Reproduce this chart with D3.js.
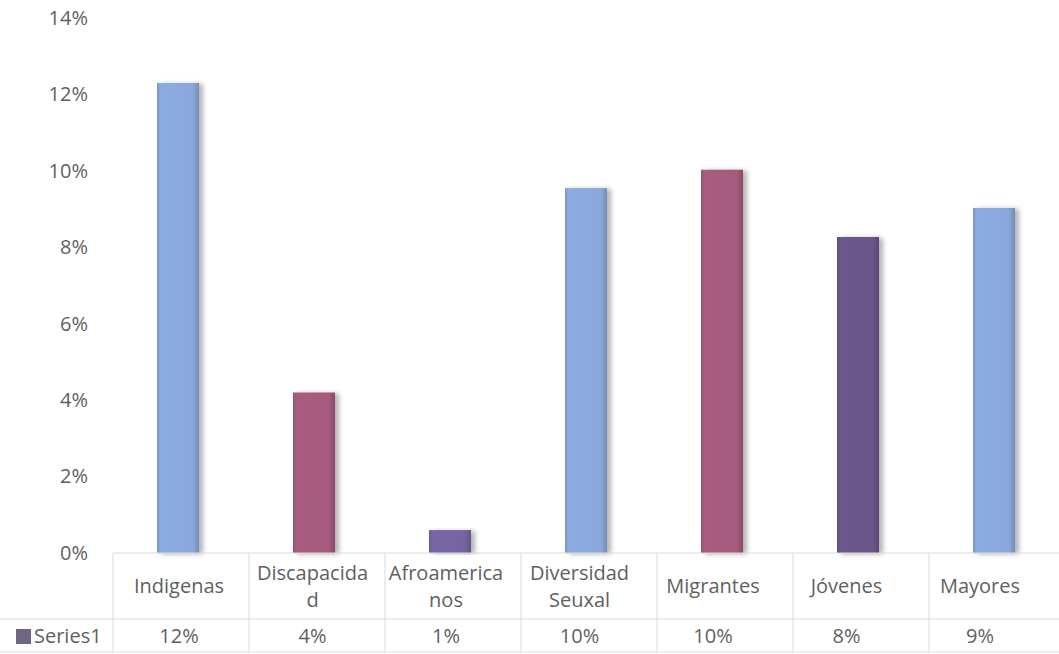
<!DOCTYPE html>
<html>
<head>
<meta charset="utf-8">
<script src="https://cdn.jsdelivr.net/npm/d3@7"></script>
<style>
  body { margin: 0; background: #fff; }
  svg text { font-family: "Open Sans", sans-serif; fill: #5f5f5f; }
</style>
</head>
<body>
<div id="chart"></div>
<script>
// data
var categories = ["Indigenas", "Discapacida\nd", "Afroamerica\nnos", "Diversidad\nSeuxal", "Migrantes", "Jóvenes", "Mayores"];
var values = [0.123, 0.042, 0.006, 0.0955, 0.1003, 0.0827, 0.0903];
var barColors = ["#8aa8dc", "#a55a7d", "#7864a0", "#8aa8dc", "#a55a7d", "#6a5689", "#8aa8dc"];
var yTicks = [0, 0.02, 0.04, 0.06, 0.08, 0.10, 0.12, 0.14];
var seriesName = "Series1";

var width = 1059,
    height = 654;

var left = 113,
    right = 1065,
    baseY = 553,
    topY = 18;

var svg = d3.select("#chart").append("svg")
    .attr("width", width)
    .attr("height", height);

var defs = svg.append("defs");

var filter = defs.append("filter")
    .attr("id", "shadow")
    .attr("x", "-20%").attr("y", "-5%")
    .attr("width", "160%").attr("height", "110%");
filter.append("feDropShadow")
    .attr("dx", 4).attr("dy", 1)
    .attr("stdDeviation", 2.5)
    .attr("flood-color", "#000")
    .attr("flood-opacity", 0.3);

var X = d3.scaleBand()
    .domain(categories)
    .range([left, right]);

var Y = d3.scaleLinear()
    .domain([0, 0.14])
    .range([baseY, topY]);

// one gradient per bar colour
barColors.forEach(function(c, i) {
    var g = defs.append("linearGradient")
        .attr("id", "grad" + i)
        .attr("x1", "0%").attr("x2", "100%")
        .attr("y1", "0%").attr("y2", "0%");
    var base = d3.color(c);
    g.append("stop").attr("offset", "0%").attr("stop-color", base.darker(0.3));
    g.append("stop").attr("offset", "8%").attr("stop-color", base.brighter(0.05));
    g.append("stop").attr("offset", "85%").attr("stop-color", base);
    g.append("stop").attr("offset", "100%").attr("stop-color", base.darker(0.5));
});

// y axis
var yAxis = svg.append("g")
    .attr("transform", "translate(" + left + ",0)")
    .call(d3.axisLeft(Y)
        .tickValues(yTicks)
        .tickFormat(d3.format(".0%"))
        .tickSize(0)
        .tickPadding(25));
yAxis.select(".domain").remove();
yAxis.selectAll("text")
    .style("font-family", "'Open Sans', sans-serif")
    .style("font-size", "20px")
    .attr("fill", "#5f5f5f");

// bars
var barW = 42;
svg.selectAll("rect.bar")
    .data(values)
    .enter().append("rect")
    .attr("class", "bar")
    .attr("x", function(d, i) {
        return X(categories[i]) + X.bandwidth() / 2 - barW / 2 - 3;
    })
    .attr("y", function(d) { return Y(d); })
    .attr("width", barW)
    .attr("height", function(d) { return baseY - Y(d); })
    .attr("fill", function(d, i) { return "url(#grad" + i + ")"; })
    .attr("filter", "url(#shadow)");

// data table
var row1 = baseY,
    row2 = 619,
    row3 = 652;
var gridColor = "#dadada";

var table = svg.append("g");

table.append("line")
    .attr("x1", left).attr("x2", width)
    .attr("y1", row1).attr("y2", row1)
    .attr("stroke", gridColor);
table.append("line")
    .attr("x1", 0).attr("x2", width)
    .attr("y1", row2).attr("y2", row2)
    .attr("stroke", gridColor);
table.append("line")
    .attr("x1", 0).attr("x2", width)
    .attr("y1", row3).attr("y2", row3)
    .attr("stroke", gridColor);

table.selectAll("line.col")
    .data(categories)
    .enter().append("line")
    .attr("class", "col")
    .attr("x1", function(d) { return X(d); })
    .attr("x2", function(d) { return X(d); })
    .attr("y1", row1).attr("y2", row3)
    .attr("stroke", gridColor);

// label centre: shift a bit left further along the table, as in the scan
function labelX(i) {
    return X(categories[i]) + X.bandwidth() / 2 - 2 - i * 2.5;
}

// category labels
var catText = table.selectAll("text.cat")
    .data(categories)
    .enter().append("text")
    .attr("class", "cat")
    .attr("text-anchor", "middle")
    .style("font-size", "20px")
    .attr("x", function(d, i) { return labelX(i); })
    .attr("y", function(d) {
        var n = d.split("\n").length;
        return (row1 + row2) / 2 - (n - 1) * 13.5;
    });

catText.selectAll("tspan")
    .data(function(d) { return d.split("\n"); })
    .enter().append("tspan")
    .attr("x", function() { return d3.select(this.parentNode).attr("x"); })
    .attr("dy", function(d, i) { return i === 0 ? "0.35em" : "27px"; })
    .text(function(d) { return d; });

// value row
table.selectAll("text.val")
    .data(values)
    .enter().append("text")
    .attr("class", "val")
    .attr("text-anchor", "middle")
    .style("font-size", "20px")
    .attr("x", function(d, i) { return labelX(i); })
    .attr("y", (row2 + row3) / 2)
    .attr("dy", "0.35em")
    .text(function(d) { return d3.format(".0%")(d); });

// legend key
table.append("rect")
    .attr("x", 16).attr("y", 629)
    .attr("width", 15).attr("height", 15)
    .attr("fill", "#6f6585");
table.append("text")
    .attr("x", 34)
    .attr("y", (row2 + row3) / 2)
    .attr("dy", "0.35em")
    .style("font-size", "20px")
    .text(seriesName);
</script>
</body>
</html>
